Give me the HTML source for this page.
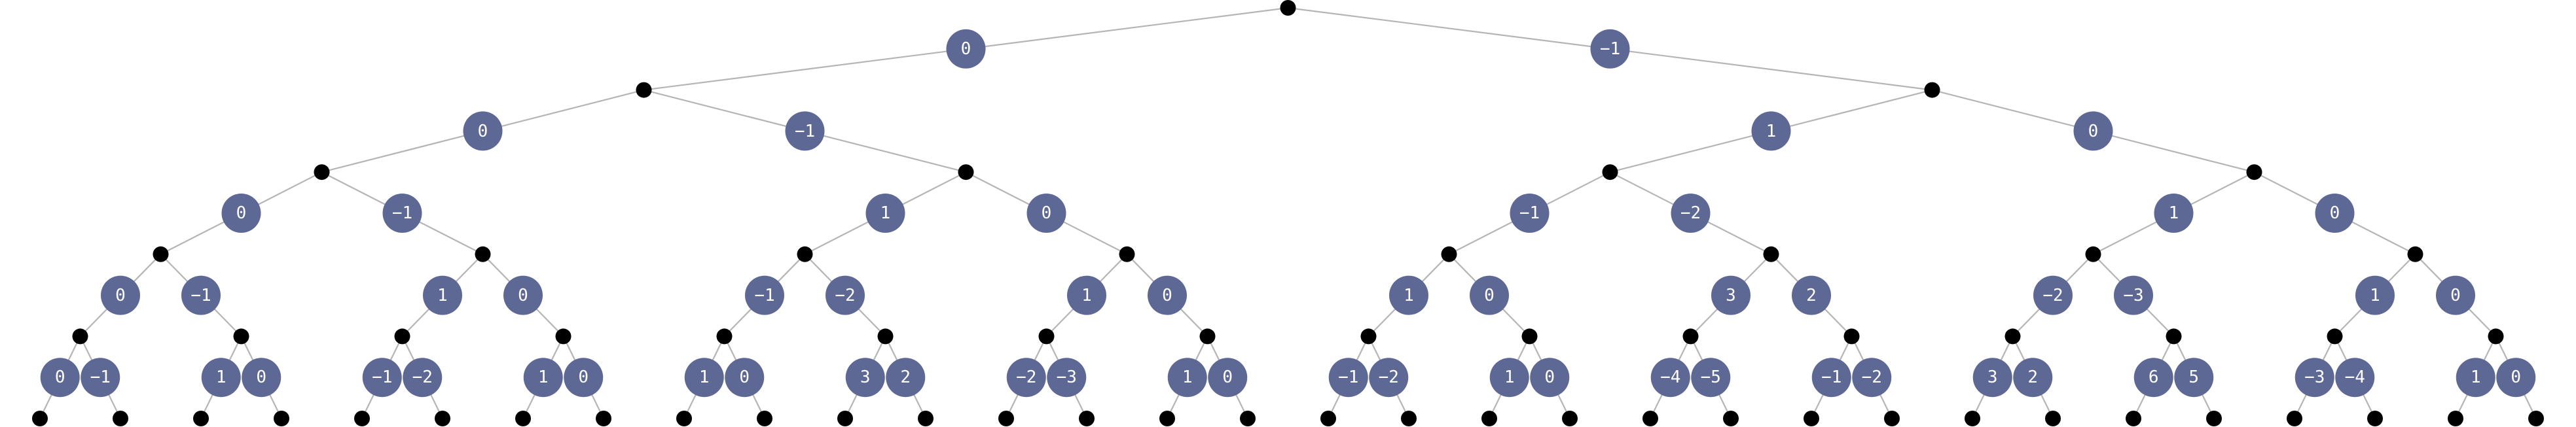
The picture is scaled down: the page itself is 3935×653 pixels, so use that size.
<!DOCTYPE html>
<html><head><meta charset="utf-8"><style>
html,body{margin:0;padding:0;background:#fff;}
svg{display:block;}
text{font-family:"DejaVu Sans Mono","Liberation Mono",monospace;font-size:26px;fill:#fff;text-anchor:middle;dominant-baseline:central;}
</style></head><body>
<svg width="3935" height="653" viewBox="0 0 3935 653" xmlns="http://www.w3.org/2000/svg">
<g stroke="#b5b5b5" stroke-width="2.2" fill="none">
<line x1="1967.5" y1="12" x2="983.5" y2="137.6"/><line x1="1967.5" y1="12" x2="2951.5" y2="137.6"/>
<line x1="983.5" y1="137.6" x2="491.5" y2="263.2"/><line x1="983.5" y1="137.6" x2="1475.5" y2="263.2"/>
<line x1="2951.5" y1="137.6" x2="2459.5" y2="263.2"/><line x1="2951.5" y1="137.6" x2="3443.5" y2="263.2"/>
<line x1="491.5" y1="263.2" x2="245.5" y2="388.8"/><line x1="491.5" y1="263.2" x2="737.5" y2="388.8"/>
<line x1="1475.5" y1="263.2" x2="1229.5" y2="388.8"/><line x1="1475.5" y1="263.2" x2="1721.5" y2="388.8"/>
<line x1="2459.5" y1="263.2" x2="2213.5" y2="388.8"/><line x1="2459.5" y1="263.2" x2="2705.5" y2="388.8"/>
<line x1="3443.5" y1="263.2" x2="3197.5" y2="388.8"/><line x1="3443.5" y1="263.2" x2="3689.5" y2="388.8"/>
<line x1="245.5" y1="388.8" x2="122.5" y2="514.4"/><line x1="245.5" y1="388.8" x2="368.5" y2="514.4"/>
<line x1="737.5" y1="388.8" x2="614.5" y2="514.4"/><line x1="737.5" y1="388.8" x2="860.5" y2="514.4"/>
<line x1="1229.5" y1="388.8" x2="1106.5" y2="514.4"/><line x1="1229.5" y1="388.8" x2="1352.5" y2="514.4"/>
<line x1="1721.5" y1="388.8" x2="1598.5" y2="514.4"/><line x1="1721.5" y1="388.8" x2="1844.5" y2="514.4"/>
<line x1="2213.5" y1="388.8" x2="2090.5" y2="514.4"/><line x1="2213.5" y1="388.8" x2="2336.5" y2="514.4"/>
<line x1="2705.5" y1="388.8" x2="2582.5" y2="514.4"/><line x1="2705.5" y1="388.8" x2="2828.5" y2="514.4"/>
<line x1="3197.5" y1="388.8" x2="3074.5" y2="514.4"/><line x1="3197.5" y1="388.8" x2="3320.5" y2="514.4"/>
<line x1="3689.5" y1="388.8" x2="3566.5" y2="514.4"/><line x1="3689.5" y1="388.8" x2="3812.5" y2="514.4"/>
<line x1="122.5" y1="514.4" x2="61" y2="640"/><line x1="122.5" y1="514.4" x2="184" y2="640"/>
<line x1="368.5" y1="514.4" x2="307" y2="640"/><line x1="368.5" y1="514.4" x2="430" y2="640"/>
<line x1="614.5" y1="514.4" x2="553" y2="640"/><line x1="614.5" y1="514.4" x2="676" y2="640"/>
<line x1="860.5" y1="514.4" x2="799" y2="640"/><line x1="860.5" y1="514.4" x2="922" y2="640"/>
<line x1="1106.5" y1="514.4" x2="1045" y2="640"/><line x1="1106.5" y1="514.4" x2="1168" y2="640"/>
<line x1="1352.5" y1="514.4" x2="1291" y2="640"/><line x1="1352.5" y1="514.4" x2="1414" y2="640"/>
<line x1="1598.5" y1="514.4" x2="1537" y2="640"/><line x1="1598.5" y1="514.4" x2="1660" y2="640"/>
<line x1="1844.5" y1="514.4" x2="1783" y2="640"/><line x1="1844.5" y1="514.4" x2="1906" y2="640"/>
<line x1="2090.5" y1="514.4" x2="2029" y2="640"/><line x1="2090.5" y1="514.4" x2="2152" y2="640"/>
<line x1="2336.5" y1="514.4" x2="2275" y2="640"/><line x1="2336.5" y1="514.4" x2="2398" y2="640"/>
<line x1="2582.5" y1="514.4" x2="2521" y2="640"/><line x1="2582.5" y1="514.4" x2="2644" y2="640"/>
<line x1="2828.5" y1="514.4" x2="2767" y2="640"/><line x1="2828.5" y1="514.4" x2="2890" y2="640"/>
<line x1="3074.5" y1="514.4" x2="3013" y2="640"/><line x1="3074.5" y1="514.4" x2="3136" y2="640"/>
<line x1="3320.5" y1="514.4" x2="3259" y2="640"/><line x1="3320.5" y1="514.4" x2="3382" y2="640"/>
<line x1="3566.5" y1="514.4" x2="3505" y2="640"/><line x1="3566.5" y1="514.4" x2="3628" y2="640"/>
<line x1="3812.5" y1="514.4" x2="3751" y2="640"/><line x1="3812.5" y1="514.4" x2="3874" y2="640"/>
</g>
<g fill="#000">
<circle cx="1967.5" cy="12" r="12"/>
<circle cx="983.5" cy="137.6" r="12"/><circle cx="2951.5" cy="137.6" r="12"/>
<circle cx="491.5" cy="263.2" r="12"/><circle cx="1475.5" cy="263.2" r="12"/><circle cx="2459.5" cy="263.2" r="12"/><circle cx="3443.5" cy="263.2" r="12"/>
<circle cx="245.5" cy="388.8" r="12"/><circle cx="737.5" cy="388.8" r="12"/><circle cx="1229.5" cy="388.8" r="12"/><circle cx="1721.5" cy="388.8" r="12"/><circle cx="2213.5" cy="388.8" r="12"/><circle cx="2705.5" cy="388.8" r="12"/><circle cx="3197.5" cy="388.8" r="12"/><circle cx="3689.5" cy="388.8" r="12"/>
<circle cx="122.5" cy="514.4" r="12"/><circle cx="368.5" cy="514.4" r="12"/><circle cx="614.5" cy="514.4" r="12"/><circle cx="860.5" cy="514.4" r="12"/><circle cx="1106.5" cy="514.4" r="12"/><circle cx="1352.5" cy="514.4" r="12"/><circle cx="1598.5" cy="514.4" r="12"/><circle cx="1844.5" cy="514.4" r="12"/><circle cx="2090.5" cy="514.4" r="12"/><circle cx="2336.5" cy="514.4" r="12"/><circle cx="2582.5" cy="514.4" r="12"/><circle cx="2828.5" cy="514.4" r="12"/><circle cx="3074.5" cy="514.4" r="12"/><circle cx="3320.5" cy="514.4" r="12"/><circle cx="3566.5" cy="514.4" r="12"/><circle cx="3812.5" cy="514.4" r="12"/>
<circle cx="61" cy="640" r="12"/><circle cx="184" cy="640" r="12"/><circle cx="307" cy="640" r="12"/><circle cx="430" cy="640" r="12"/><circle cx="553" cy="640" r="12"/><circle cx="676" cy="640" r="12"/><circle cx="799" cy="640" r="12"/><circle cx="922" cy="640" r="12"/><circle cx="1045" cy="640" r="12"/><circle cx="1168" cy="640" r="12"/><circle cx="1291" cy="640" r="12"/><circle cx="1414" cy="640" r="12"/><circle cx="1537" cy="640" r="12"/><circle cx="1660" cy="640" r="12"/><circle cx="1783" cy="640" r="12"/><circle cx="1906" cy="640" r="12"/><circle cx="2029" cy="640" r="12"/><circle cx="2152" cy="640" r="12"/><circle cx="2275" cy="640" r="12"/><circle cx="2398" cy="640" r="12"/><circle cx="2521" cy="640" r="12"/><circle cx="2644" cy="640" r="12"/><circle cx="2767" cy="640" r="12"/><circle cx="2890" cy="640" r="12"/><circle cx="3013" cy="640" r="12"/><circle cx="3136" cy="640" r="12"/><circle cx="3259" cy="640" r="12"/><circle cx="3382" cy="640" r="12"/><circle cx="3505" cy="640" r="12"/><circle cx="3628" cy="640" r="12"/><circle cx="3751" cy="640" r="12"/><circle cx="3874" cy="640" r="12"/>
</g>
<g fill="#5d6895">
<circle cx="1475.5" cy="74.8" r="30"/><circle cx="2459.5" cy="74.8" r="30"/>
<circle cx="737.5" cy="200.4" r="30"/><circle cx="1229.5" cy="200.4" r="30"/><circle cx="2705.5" cy="200.4" r="30"/><circle cx="3197.5" cy="200.4" r="30"/>
<circle cx="368.5" cy="326" r="30"/><circle cx="614.5" cy="326" r="30"/><circle cx="1352.5" cy="326" r="30"/><circle cx="1598.5" cy="326" r="30"/><circle cx="2336.5" cy="326" r="30"/><circle cx="2582.5" cy="326" r="30"/><circle cx="3320.5" cy="326" r="30"/><circle cx="3566.5" cy="326" r="30"/>
<circle cx="184" cy="451.6" r="30"/><circle cx="307" cy="451.6" r="30"/><circle cx="676" cy="451.6" r="30"/><circle cx="799" cy="451.6" r="30"/><circle cx="1168" cy="451.6" r="30"/><circle cx="1291" cy="451.6" r="30"/><circle cx="1660" cy="451.6" r="30"/><circle cx="1783" cy="451.6" r="30"/><circle cx="2152" cy="451.6" r="30"/><circle cx="2275" cy="451.6" r="30"/><circle cx="2644" cy="451.6" r="30"/><circle cx="2767" cy="451.6" r="30"/><circle cx="3136" cy="451.6" r="30"/><circle cx="3259" cy="451.6" r="30"/><circle cx="3628" cy="451.6" r="30"/><circle cx="3751" cy="451.6" r="30"/>
<circle cx="91.75" cy="577.2" r="30"/><circle cx="153.25" cy="577.2" r="30"/><circle cx="337.75" cy="577.2" r="30"/><circle cx="399.25" cy="577.2" r="30"/><circle cx="583.75" cy="577.2" r="30"/><circle cx="645.25" cy="577.2" r="30"/><circle cx="829.75" cy="577.2" r="30"/><circle cx="891.25" cy="577.2" r="30"/><circle cx="1075.75" cy="577.2" r="30"/><circle cx="1137.25" cy="577.2" r="30"/><circle cx="1321.75" cy="577.2" r="30"/><circle cx="1383.25" cy="577.2" r="30"/><circle cx="1567.75" cy="577.2" r="30"/><circle cx="1629.25" cy="577.2" r="30"/><circle cx="1813.75" cy="577.2" r="30"/><circle cx="1875.25" cy="577.2" r="30"/><circle cx="2059.75" cy="577.2" r="30"/><circle cx="2121.25" cy="577.2" r="30"/><circle cx="2305.75" cy="577.2" r="30"/><circle cx="2367.25" cy="577.2" r="30"/><circle cx="2551.75" cy="577.2" r="30"/><circle cx="2613.25" cy="577.2" r="30"/><circle cx="2797.75" cy="577.2" r="30"/><circle cx="2859.25" cy="577.2" r="30"/><circle cx="3043.75" cy="577.2" r="30"/><circle cx="3105.25" cy="577.2" r="30"/><circle cx="3289.75" cy="577.2" r="30"/><circle cx="3351.25" cy="577.2" r="30"/><circle cx="3535.75" cy="577.2" r="30"/><circle cx="3597.25" cy="577.2" r="30"/><circle cx="3781.75" cy="577.2" r="30"/><circle cx="3843.25" cy="577.2" r="30"/>
</g>
<g>
<text x="1475.5" y="75">0</text><text x="2459.5" y="75">−1</text>
<text x="737.5" y="201">0</text><text x="1229.5" y="201">−1</text><text x="2705.5" y="201">1</text><text x="3197.5" y="201">0</text>
<text x="368.5" y="326">0</text><text x="614.5" y="326">−1</text><text x="1352.5" y="326">1</text><text x="1598.5" y="326">0</text><text x="2336.5" y="326">−1</text><text x="2582.5" y="326">−2</text><text x="3320.5" y="326">1</text><text x="3566.5" y="326">0</text>
<text x="184" y="452">0</text><text x="307" y="452">−1</text><text x="676" y="452">1</text><text x="799" y="452">0</text><text x="1168" y="452">−1</text><text x="1291" y="452">−2</text><text x="1660" y="452">1</text><text x="1783" y="452">0</text><text x="2152" y="452">1</text><text x="2275" y="452">0</text><text x="2644" y="452">3</text><text x="2767" y="452">2</text><text x="3136" y="452">−2</text><text x="3259" y="452">−3</text><text x="3628" y="452">1</text><text x="3751" y="452">0</text>
<text x="91.75" y="577">0</text><text x="153.25" y="577">−1</text><text x="337.75" y="577">1</text><text x="399.25" y="577">0</text><text x="583.75" y="577">−1</text><text x="645.25" y="577">−2</text><text x="829.75" y="577">1</text><text x="891.25" y="577">0</text><text x="1075.75" y="577">1</text><text x="1137.25" y="577">0</text><text x="1321.75" y="577">3</text><text x="1383.25" y="577">2</text><text x="1567.75" y="577">−2</text><text x="1629.25" y="577">−3</text><text x="1813.75" y="577">1</text><text x="1875.25" y="577">0</text><text x="2059.75" y="577">−1</text><text x="2121.25" y="577">−2</text><text x="2305.75" y="577">1</text><text x="2367.25" y="577">0</text><text x="2551.75" y="577">−4</text><text x="2613.25" y="577">−5</text><text x="2797.75" y="577">−1</text><text x="2859.25" y="577">−2</text><text x="3043.75" y="577">3</text><text x="3105.25" y="577">2</text><text x="3289.75" y="577">6</text><text x="3351.25" y="577">5</text><text x="3535.75" y="577">−3</text><text x="3597.25" y="577">−4</text><text x="3781.75" y="577">1</text><text x="3843.25" y="577">0</text>
</g>
</svg>
</body></html>
